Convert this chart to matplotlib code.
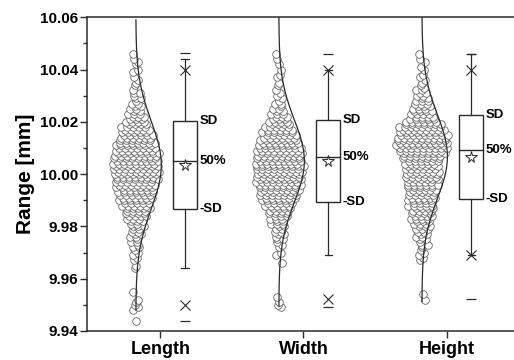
import numpy as np
import matplotlib
matplotlib.use("Agg")
import matplotlib.pyplot as plt

plt.rcParams['font.family'] = ['Liberation Sans', 'DejaVu Sans']
plt.rcParams['font.weight'] = 'bold'

groups = ['Length', 'Width', 'Height']

# counts of measurements per 0.001 mm level, starting at 9.944 mm
level_start = 9.944
level_step = 0.001
length_counts = [1, 0, 0, 0, 1, 1, 1, 1, 1, 0,   # 9.944
                 0, 1, 0, 0, 0, 0, 0, 0, 0, 0,   # 9.954
                 1, 1, 0, 1, 1, 1, 1, 1, 2, 1,   # 9.964
                 2, 1, 2, 2, 2, 2, 3, 2, 3, 3,   # 9.974
                 4, 4, 4, 5, 5, 5, 6, 6, 6, 7,   # 9.984
                 6, 7, 7, 7, 8, 7, 8, 8, 8, 8,   # 9.994
                 8, 8, 8, 8, 8, 7, 7, 7, 7, 6,   # 10.004
                 6, 6, 5, 5, 5, 4, 4, 3, 3, 3,   # 10.014
                 2, 2, 2, 2, 1, 2, 1, 2, 1, 0,   # 10.024
                 1, 1, 1, 1, 0, 1, 1, 0, 1, 1,   # 10.034
                 1, 0, 1]                        # 10.044
width_counts = [0, 0, 0, 0, 0, 1, 1, 1, 0, 1,
                0, 0, 0, 0, 0, 0, 0, 0, 0, 0,
                0, 0, 1, 0, 0, 1, 1, 0, 1, 1,
                1, 2, 1, 2, 2, 2, 2, 3, 2, 3,
                3, 4, 4, 4, 5, 5, 6, 6, 7, 7,
                7, 7, 8, 8, 8, 8, 8, 8, 8, 9,
                8, 8, 8, 8, 8, 8, 8, 7, 7, 7,
                6, 6, 6, 5, 5, 4, 4, 3, 3, 3,
                2, 2, 1, 2, 1, 1, 1, 1, 1, 0,
                1, 1, 0, 1, 1, 0, 1, 0, 1, 0,
                1, 0, 1]
height_counts = [0, 0, 0, 0, 0, 0, 0, 0, 1, 0,
                 1, 0, 0, 0, 0, 0, 0, 0, 0, 0,
                 0, 0, 0, 1, 1, 1, 1, 1, 1, 2,
                 1, 2, 2, 2, 2, 3, 3, 3, 3, 4,
                 4, 4, 4, 4, 5, 4, 5, 5, 5, 5,
                 5, 5, 6, 5, 6, 6, 6, 6, 6, 6,
                 6, 6, 7, 7, 8, 8, 9, 9, 9, 9,
                 9, 9, 8, 8, 8, 7, 6, 5, 4, 4,
                 4, 3, 3, 3, 3, 2, 2, 2, 2, 1,
                 1, 1, 1, 1, 1, 0, 1, 1, 0, 1,
                 1, 0, 1]

# box statistics
means = [10.0035, 10.0050, 10.0067]
sds = [0.0167, 0.0158, 0.0161]
medians = [10.0052, 10.0064, 10.0092]
whisk_lo = [9.9641, 9.9692, 9.9692]
whisk_hi = [10.0442, 10.0398, 10.0460]
p1 = [9.9498, 9.9524, 9.9692]
p99 = [10.0398, 10.0398, 10.0398]
mins = [9.9439, 9.9491, 9.9521]
maxs = [10.0462, 10.0460, 10.0460]

all_counts = [length_counts, width_counts, height_counts]
line_c = '#2a2a2a'

fig = plt.figure(figsize=(5.14, 3.6), dpi=100)
ax = fig.add_axes([0.1702, 0.0806, 0.8405, 0.8714])

x = np.arange(1, len(groups) + 1)
scat_off = -0.172
box_off = 0.172
box_w = 0.164
sp = 0.041
shifts = [0.0, 0.45, -0.3, 0.2, -0.45, 0.3, -0.15]

for k, counts in enumerate(all_counts):
    base = x[k] + scat_off
    xs, ys = [], []
    for i, n in enumerate(counts):
        if n == 0:
            continue
        yv = level_start + level_step * i
        shift = shifts[i % len(shifts)] * sp
        for j in range(n):
            xs.append(base + (j - (n - 1) / 2) * sp + shift)
            ys.append(yv)
    ax.scatter(xs, ys, s=30, facecolor='white', edgecolor='#666666',
               linewidths=0.6, zorder=2)

    # normal curve
    yy = np.linspace(means[k] - 0.0555, means[k] + 0.0555, 300)
    xx = base + 0.178 * np.exp(-0.5 * ((yy - means[k]) / sds[k]) ** 2)
    ax.plot(xx, yy, color=line_c, lw=0.9, zorder=3)

    # box: mean +/- SD
    bx = x[k] + box_off
    lo, hi = means[k] - sds[k], means[k] + sds[k]
    ax.add_patch(plt.Rectangle((bx - box_w / 2, lo), box_w, hi - lo,
                               facecolor='white', edgecolor=line_c, lw=1.0, zorder=3))
    ax.plot([bx - box_w / 2, bx + box_w / 2], [medians[k]] * 2, color=line_c, lw=1.0, zorder=4)
    ax.plot([bx, bx], [hi, whisk_hi[k]], color=line_c, lw=0.9, zorder=3)
    ax.plot([bx, bx], [lo, whisk_lo[k]], color=line_c, lw=0.9, zorder=3)
    for w in (whisk_lo[k], whisk_hi[k]):
        ax.plot([bx - 0.025, bx + 0.025], [w, w], color=line_c, lw=0.9, zorder=3)
    ax.plot([bx, bx], [p1[k], p99[k]], ls='none', marker='x', ms=7.5, mew=0.8,
            color=line_c, zorder=5)
    ax.plot([bx, bx], [mins[k], maxs[k]], ls='none', marker='_', ms=7.5, mew=0.9,
            color=line_c, zorder=5)
    ax.plot(bx, means[k], ls='none', marker='*', ms=8.5, mfc='white', mec=line_c,
            mew=0.7, zorder=5)

    tx = bx + box_w / 2
    for yv, lab in ((hi, 'SD'), (medians[k], '50%'), (lo, '-SD')):
        ax.annotate(lab, (tx, yv), xytext=(2, 0), textcoords='offset points',
                    ha='left', va='center', fontsize=9.5, fontweight='bold')

ax.set_xlim(0.49, 3.51)
ax.set_ylim(9.94, 10.06)
ax.set_xticks(x)
ax.set_xticklabels(groups, fontsize=13, fontweight='bold')
ax.set_yticks([9.94, 9.96, 9.98, 10.00, 10.02, 10.04, 10.06])
ax.set_yticklabels(['9.94', '9.96', '9.98', '10.00', '10.02', '10.04', '10.06'],
                   fontsize=11, fontweight='bold')
ax.set_yticks(np.arange(9.95, 10.06, 0.02), minor=True)
ax.tick_params(axis='both', which='major', direction='out', length=5, width=1.0,
               color=line_c, pad=2)
ax.tick_params(axis='y', which='minor', direction='out', length=3, width=1.0, color=line_c)
ax.set_ylabel('Range [mm]', fontsize=15, fontweight='bold', labelpad=3)
for sp_name in ('left', 'bottom', 'top', 'right'):
    ax.spines[sp_name].set_color(line_c)
    ax.spines[sp_name].set_linewidth(1.1)

fig.savefig('out.png', dpi=100)
